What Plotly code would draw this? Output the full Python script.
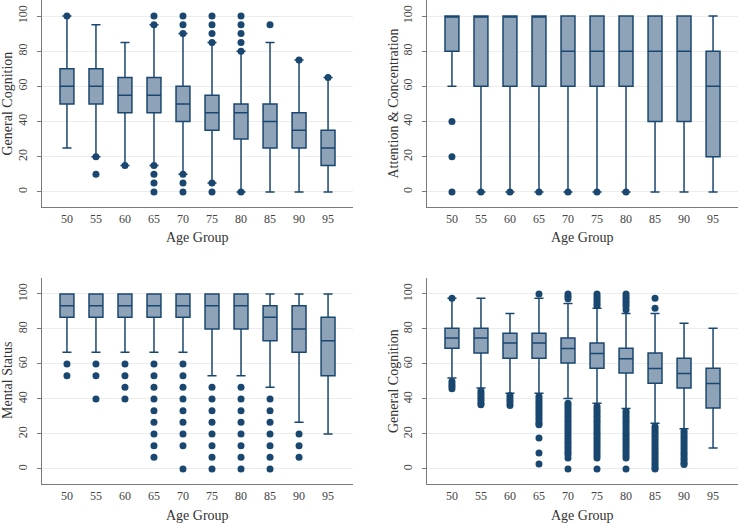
import plotly.graph_objects as go

W, H = 740, 523
FONT = "Liberation Serif"
NAVY = "#1a476f"
FILL = "#8ea2b8"
AXC = "#7a7a7a"

ages = ["50", "55", "60", "65", "70", "75", "80", "85", "90", "95"]
y_ticks = [0, 20, 40, 60, 80, 100]

# Panel 1: General Cognition (top left)
gc_q1 = [50, 50, 45, 45, 40, 35, 30, 25, 25, 15]
gc_med = [60, 60, 55, 55, 50, 45, 45, 40, 35, 25]
gc_q3 = [70, 70, 65, 65, 60, 55, 50, 50, 45, 35]
gc_lo = [25, 20, 15, 15, 10, 5, 0, 0, 0, 0]
gc_hi = [100, 95, 85, 95, 90, 85, 80, 85, 75, 65]
gc_out = {
    "50": [100], "55": [20, 10], "60": [15], "65": [100, 95, 15, 10, 5, 0],
    "70": [100, 95, 90, 10, 5, 0], "75": [100, 95, 90, 85, 5, 0],
    "80": [100, 95, 90, 85, 80, 0], "85": [95], "90": [75], "95": [65],
}

# Panel 2: Attention & Concentration (top right)
ac_q1 = [80, 60, 60, 60, 60, 60, 60, 40, 40, 20]
ac_med = [100, 100, 100, 100, 80, 80, 80, 80, 80, 60]
ac_q3 = [100, 100, 100, 100, 100, 100, 100, 100, 100, 80]
ac_lo = [60, 0, 0, 0, 0, 0, 0, 0, 0, 0]
ac_hi = [100, 100, 100, 100, 100, 100, 100, 100, 100, 100]
ac_out = {
    "50": [40, 20, 0], "55": [0], "60": [0], "65": [0], "70": [0],
    "75": [0], "80": [0], "85": [], "90": [], "95": [],
}

# Panel 3: Mental Status (bottom left)
ms_q1 = [86.7, 86.7, 86.7, 86.7, 86.7, 80, 80, 73.3, 66.7, 53.3]
ms_med = [93.3, 93.3, 93.3, 93.3, 93.3, 93.3, 93.3, 86.7, 80, 73.3]
ms_q3 = [100, 100, 100, 100, 100, 100, 100, 93.3, 93.3, 86.7]
ms_lo = [66.7, 66.7, 66.7, 66.7, 66.7, 53.3, 53.3, 46.7, 26.7, 20]
ms_hi = [100, 100, 100, 100, 100, 100, 100, 100, 100, 100]
ms_out = {
    "50": [60, 53.3], "55": [60, 53.3, 40], "60": [60, 53.3, 46.7, 40],
    "65": [60, 53.3, 46.7, 40, 33.3, 26.7, 20, 13.3, 6.7],
    "70": [60, 53.3, 46.7, 40, 33.3, 26.7, 20, 13.3, 0],
    "75": [46.7, 40, 33.3, 26.7, 20, 13.3, 6.7, 0],
    "80": [46.7, 40, 33.3, 26.7, 20, 13.3, 6.7, 0],
    "85": [40, 33.3, 26.7, 20, 13.3, 6.7, 0],
    "90": [20, 13.3, 6.7], "95": [],
}

# Panel 4: General Cognition (bottom right)
gc2_q1 = [69.0, 66.2, 63.3, 63.3, 60.5, 57.6, 54.8, 49.0, 46.2, 34.8]
gc2_med = [74.8, 74.8, 71.9, 71.9, 68.8, 66.0, 63.0, 57.4, 54.6, 48.8]
gc2_q3 = [80.4, 80.4, 77.6, 77.6, 74.8, 71.9, 69.0, 66.2, 63.3, 57.6]
gc2_lo = [51.9, 46.2, 43.3, 43.3, 40.3, 37.5, 34.6, 26.1, 23.0, 12.0]
gc2_hi = [97.5, 97.5, 88.8, 97.5, 94.6, 91.8, 88.8, 88.8, 83.2, 80.4]
gc2_out = {
    "50": [97.5, 50.0, 48.6, 47.2, 45.8],
    "55": [44.6, 43.2, 41.8, 40.4, 39.0, 37.6, 36.7],
    "60": [41.9, 40.5, 39.1, 37.7, 36.3],
    "65": [100, 41.4, 40.0, 38.6, 37.2, 35.8, 34.4, 33.0, 31.6, 30.2, 28.8,
           27.4, 26.0, 25.3, 17.7, 9.1, 2.8],
    "70": [100, 98.6, 97.2, 37.6, 36.2, 34.8, 33.4, 32.0, 30.6, 29.2, 27.8,
           26.4, 25.0, 23.6, 22.2, 20.8, 19.4, 18.0, 16.6, 15.2, 13.8, 12.4,
           11.0, 9.6, 8.2, 6.3, 0.0],
    "75": [100, 98.6, 97.2, 95.8, 94.4, 93.3, 35.7, 34.3, 32.9, 31.5, 30.1,
           28.7, 27.3, 25.9, 24.5, 23.1, 21.7, 20.3, 18.9, 17.5, 16.1, 14.7,
           13.3, 11.9, 10.5, 9.1, 7.7, 6.3, 0.0],
    "80": [100, 98.6, 97.2, 95.8, 94.4, 93.0, 91.0, 32.9, 31.5, 30.1, 28.7,
           27.3, 25.9, 24.5, 23.1, 21.7, 20.3, 18.9, 17.5, 16.1, 14.7, 13.3,
           11.9, 10.5, 9.1, 7.7, 6.3, 0.0],
    "85": [97.5, 91.8, 24.3, 22.9, 21.5, 20.1, 18.7, 17.3, 15.9, 14.5, 13.1,
           11.7, 10.3, 8.9, 7.5, 6.1, 4.7, 3.3, 1.9, 0.5, 0.0],
    "90": [21.5, 20.1, 18.7, 17.3, 15.9, 14.5, 13.1, 11.7, 10.3, 8.9, 7.5,
           6.1, 4.7, 3.3, 2.5],
    "95": [],
}

panels = [
    ("General Cognition", gc_q1, gc_med, gc_q3, gc_lo, gc_hi, gc_out),
    ("Attention & Concentration", ac_q1, ac_med, ac_q3, ac_lo, ac_hi, ac_out),
    ("Mental Status", ms_q1, ms_med, ms_q3, ms_lo, ms_hi, ms_out),
    ("General Cognition", gc2_q1, gc2_med, gc2_q3, gc2_lo, gc2_hi, gc2_out),
]

# pixel boxes of the plot areas (left, right, top, bottom)
areas = [(42, 353, 0, 207), (427, 738, 0, 207), (42, 353, 278, 484), (427, 738, 278, 484)]
ytitle_x = [7, 393, 7, 393]

fig = go.Figure()
layout = dict(
    width=W, height=H, margin=dict(l=0, r=0, t=0, b=0),
    paper_bgcolor="white", plot_bgcolor="white", showlegend=False,
    font=dict(family=FONT, size=12, color="#444"),
)
annotations = []

for i, (title, q1, med, q3, lo, hi, out) in enumerate(panels):
    n = "" if i == 0 else str(i + 1)
    xa, ya = "x" + n, "y" + n
    fig.add_trace(go.Box(
        x=ages, q1=q1, median=med, q3=q3, lowerfence=lo, upperfence=hi,
        xaxis=xa, yaxis=ya, fillcolor=FILL, line=dict(color=NAVY, width=1.5),
        width=0.48, whiskerwidth=0.65, boxpoints=False, hoverinfo="skip",
    ))
    ox, oy = [], []
    for a in ages:
        for v in out[a]:
            ox.append(a)
            oy.append(v)
    fig.add_trace(go.Scatter(
        x=ox, y=oy, mode="markers", xaxis=xa, yaxis=ya,
        marker=dict(color=NAVY, size=7, line=dict(width=0)), hoverinfo="skip",
    ))
    l, r, t, b = areas[i]
    layout["xaxis" + n] = dict(
        domain=[l / W, r / W], anchor=ya, type="category",
        categoryorder="array", categoryarray=ages, range=[-0.86, 9.86],
        showline=True, linecolor=AXC, linewidth=1, ticks="", showgrid=False,
        zeroline=False, tickfont=dict(size=12, color="#444"),
        ticklabelstandoff=1,
    )
    layout["yaxis" + n] = dict(
        domain=[1 - b / H, 1 - t / H], anchor=xa, range=[-8.6, 109.1],
        tickvals=y_ticks, tickangle=-90, ticks="outside", ticklen=4,
        tickcolor=AXC, showline=True, linecolor=AXC, linewidth=1,
        showgrid=True, gridcolor="#ececec", gridwidth=1, zeroline=False,
        tickfont=dict(size=12, color="#444"), ticklabelstandoff=5,
    )
    annotations.append(dict(
        text="Age Group", xref="paper", yref="paper",
        x=(l + r) / 2 / W, y=1 - (b + 31) / H, showarrow=False,
        font=dict(family=FONT, size=14, color="#333"),
        xanchor="center", yanchor="middle",
    ))
    annotations.append(dict(
        text=title, xref="paper", yref="paper",
        x=ytitle_x[i] / W, y=1 - (t + b) / 2 / H, showarrow=False, textangle=-90,
        font=dict(family=FONT, size=14, color="#333"),
        xanchor="center", yanchor="middle",
    ))

layout["annotations"] = annotations
fig.update_layout(**layout)
fig.write_html(
    "out.html",
    config={"displayModeBar": False},
    post_script="document.body.style.margin='0';document.body.style.overflow='hidden';",
)
